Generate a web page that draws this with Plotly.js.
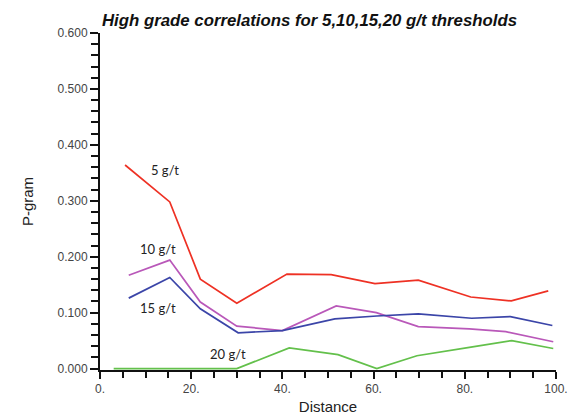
<!DOCTYPE html>
<html>
<head>
<meta charset="utf-8">
<script src="https://cdn.plot.ly/plotly-3.0.1.min.js"></script>
<style>html,body{margin:0;padding:0;background:#fff;}#chart{width:571px;height:418px;}</style>
</head>
<body>
<div id="chart"></div>
<script>
// Lag distances (per series)
const x5  = [5.5, 15.3, 22, 30, 41, 50.7, 60.3, 69.8, 81.3, 90.2, 98.3];
const x10 = [6.3, 15.3, 22, 30, 40, 51.8, 60.6, 69.8, 81, 89, 99.4];
const x15 = [6.3, 15.3, 22, 30.3, 40, 51.5, 60.7, 69.8, 81.5, 90, 99.2];
const x20 = [3, 15.3, 22, 30, 41.5, 52.2, 60.7, 69.5, 81, 90.3, 99.4];
// P-gram values
const y5  = [0.364, 0.298, 0.160, 0.117, 0.169, 0.168, 0.152, 0.158, 0.128, 0.121, 0.139];
const y10 = [0.167, 0.194, 0.119, 0.076, 0.068, 0.112, 0.100, 0.075, 0.071, 0.066, 0.048];
const y15 = [0.126, 0.163, 0.107, 0.064, 0.068, 0.089, 0.094, 0.098, 0.090, 0.093, 0.077];
const y20 = [0, 0, 0, 0, 0.037, 0.025, 0, 0.023, 0.038, 0.050, 0.036];
// Series labels
const seriesNames = ["5 g/t", "10 g/t", "15 g/t", "20 g/t"];
const labelX = [14.3, 12.8, 12.8, 28];
const labelY = [0.355, 0.213, 0.108, 0.027];
// Tick labels
const xTickVals = [0, 20, 40, 60, 80, 100];
const xTickText = ["0.", "20.", "40.", "60.", "80.", "100."];
const yTickVals = [0, 0.1, 0.2, 0.3, 0.4, 0.5, 0.6];
const yTickText = ["0.000", "0.100", "0.200", "0.300", "0.400", "0.500", "0.600"];

const colors = ["#ee3124", "#b958b9", "#3b45a8", "#63c04b"];
const xs = [x5, x10, x15, x20];
const ys = [y5, y10, y15, y20];

const traces = xs.map((x, i) => ({
  x: x, y: ys[i], type: "scatter", mode: "lines", name: seriesNames[i],
  line: {color: colors[i], width: 1.7}, showlegend: false, cliponaxis: false
}));

const annotations = seriesNames.map((t, i) => ({
  x: labelX[i], y: labelY[i], xref: "x", yref: "y", text: t, showarrow: false,
  font: {family: "Lato, 'Open Sans', sans-serif", size: 13, color: "#222"},
  xanchor: "center", yanchor: "middle"
}));

const layout = {
  width: 571, height: 418,
  margin: {l: 100, r: 15, t: 33, b: 48},
  paper_bgcolor: "#fff", plot_bgcolor: "#fff",
  font: {family: "'Liberation Sans', Arial, sans-serif", color: "#333"},
  title: {
    text: "<b><i>High grade correlations for 5,10,15,20 g/t thresholds</i></b>",
    font: {family: "'Liberation Sans', Arial, sans-serif", size: 16.8, color: "#111"},
    x: 102/571, xref: "container", xanchor: "left",
    y: 1 - 20/418, yref: "container", yanchor: "middle"
  },
  xaxis: {
    range: [0, 100], showgrid: false, zeroline: false, layer: "below traces",
    showline: true, linecolor: "#111", linewidth: 2,
    tickmode: "array", tickvals: xTickVals, ticktext: xTickText,
    ticks: "outside", ticklen: 7, tickwidth: 2, tickcolor: "#111",
    tickfont: {size: 12, color: "#444"},
    minor: {dtick: 5, ticks: "outside", ticklen: 6, tickwidth: 2, tickcolor: "#111", showgrid: false},
    title: {text: "Distance", font: {size: 15, color: "#222"}, standoff: 6}
  },
  yaxis: {
    range: [-0.0025, 0.6], showgrid: false, zeroline: false, layer: "below traces",
    showline: true, linecolor: "#111", linewidth: 2,
    tickmode: "array", tickvals: yTickVals, ticktext: yTickText,
    ticks: "outside", ticklen: 8, tickwidth: 2, tickcolor: "#111",
    tickfont: {size: 12, color: "#444"},
    minor: {dtick: 0.02, ticks: "outside", ticklen: 7, tickwidth: 2, tickcolor: "#111", showgrid: false},
    title: {text: "P-gram", font: {size: 15, color: "#222"}, standoff: 20}
  },
  annotations: annotations
};

Plotly.newPlot("chart", traces, layout, {displayModeBar: false, staticPlot: true});
</script>
</body>
</html>
